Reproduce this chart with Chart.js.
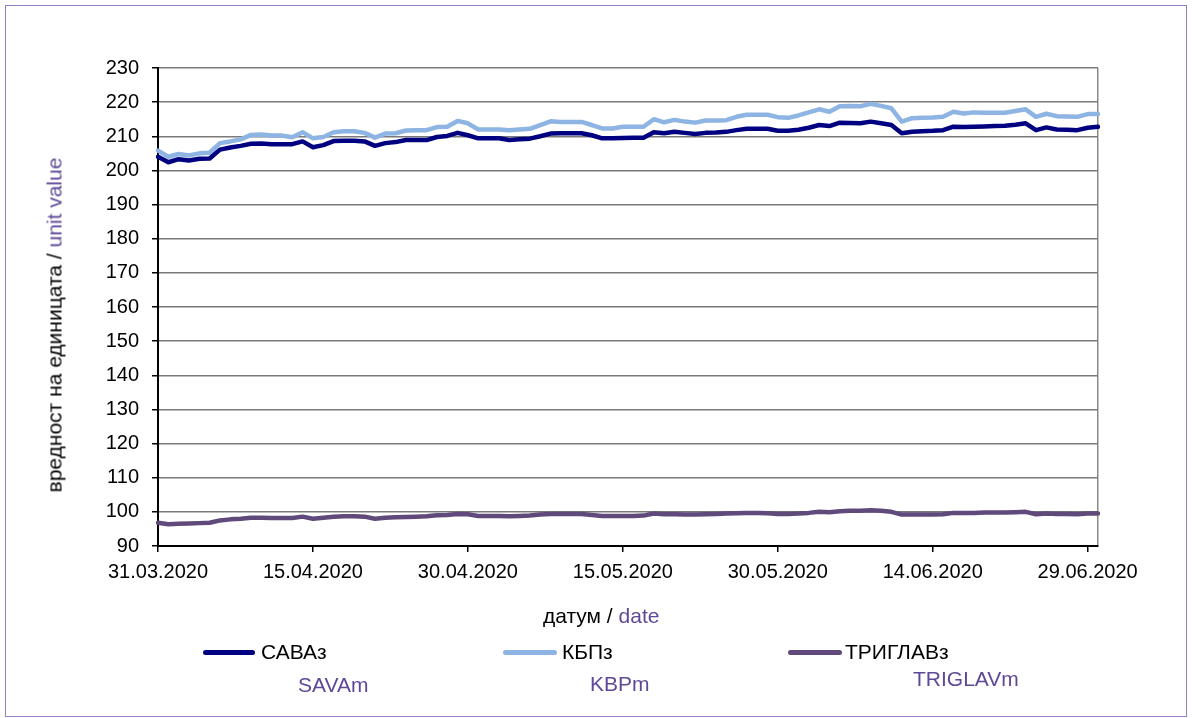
<!DOCTYPE html>
<html>
<head>
<meta charset="utf-8">
<script src="https://cdn.jsdelivr.net/npm/chart.js@4.4.0/dist/chart.umd.min.js"></script>
<style>
  body { margin: 0; background: #fff; font-family: Arial, "Liberation Sans", sans-serif; }
  #wrap { position: relative; width: 1192px; height: 718px; overflow: hidden; }
  #frame { position: absolute; left: 5px; top: 5px; width: 1180px; height: 710px; border: 1px solid #9580c4; }
  canvas { position: absolute; left: 0; top: 0; }
  .txt { position: absolute; font-size: 21px; line-height: 21px; white-space: nowrap; color: #000; }
  .en { color: #5f4897; }
  .key { position: absolute; height: 5px; border-radius: 3px; }
  #ytitle { left: 54px; top: 325px; transform: translate(-50%, -50%) rotate(-90deg); }
</style>
</head>
<body>
<div id="wrap">
  <div id="frame"></div>
  <canvas id="chart" width="1192" height="718"></canvas>
  <div class="txt" id="ytitle">вредност на единицата / <span class="en">unit value</span></div>
  <div class="txt" style="left:543px; top:605px;">датум / <span class="en">date</span></div>

  <div class="key" style="left:203px; top:650px; width:52px; background:#000080;"></div>
  <div class="txt" style="left:261px; top:641px;">САВАз</div>
  <div class="txt en" style="left:298px; top:674px;">SAVAm</div>

  <div class="key" style="left:503px; top:650px; width:54px; background:#8db4e2;"></div>
  <div class="txt" style="left:562px; top:641px;">КБПз</div>
  <div class="txt en" style="left:590px; top:673px;">KBPm</div>

  <div class="key" style="left:788px; top:650px; width:54px; background:#604a7b;"></div>
  <div class="txt" style="left:845px; top:641px;">ТРИГЛАВз</div>
  <div class="txt en" style="left:913px; top:668px;">TRIGLAVm</div>
</div>

<script>
// ------------------------- Data -------------------------
const dates = [
  '31.03.2020',
  '01.04.2020', '02.04.2020', '03.04.2020', '04.04.2020', '05.04.2020', '06.04.2020', '07.04.2020', '08.04.2020', '09.04.2020', '10.04.2020',
  '11.04.2020', '12.04.2020', '13.04.2020', '14.04.2020', '15.04.2020', '16.04.2020', '17.04.2020', '18.04.2020', '19.04.2020', '20.04.2020',
  '21.04.2020', '22.04.2020', '23.04.2020', '24.04.2020', '25.04.2020', '26.04.2020', '27.04.2020', '28.04.2020', '29.04.2020', '30.04.2020',
  '01.05.2020', '02.05.2020', '03.05.2020', '04.05.2020', '05.05.2020', '06.05.2020', '07.05.2020', '08.05.2020', '09.05.2020', '10.05.2020',
  '11.05.2020', '12.05.2020', '13.05.2020', '14.05.2020', '15.05.2020', '16.05.2020', '17.05.2020', '18.05.2020', '19.05.2020', '20.05.2020',
  '21.05.2020', '22.05.2020', '23.05.2020', '24.05.2020', '25.05.2020', '26.05.2020', '27.05.2020', '28.05.2020', '29.05.2020', '30.05.2020',
  '31.05.2020',
  '01.06.2020', '02.06.2020', '03.06.2020', '04.06.2020', '05.06.2020', '06.06.2020', '07.06.2020', '08.06.2020', '09.06.2020', '10.06.2020',
  '11.06.2020', '12.06.2020', '13.06.2020', '14.06.2020', '15.06.2020', '16.06.2020', '17.06.2020', '18.06.2020', '19.06.2020', '20.06.2020',
  '21.06.2020', '22.06.2020', '23.06.2020', '24.06.2020', '25.06.2020', '26.06.2020', '27.06.2020', '28.06.2020', '29.06.2020', '30.06.2020'
];

const tickDates = ['31.03.2020', '15.04.2020', '30.04.2020', '15.05.2020', '30.05.2020', '14.06.2020', '29.06.2020'];

const sava = [
  204.0, 202.4, 203.3, 202.9, 203.4, 203.5, 206.1, 206.7, 207.2, 207.8,
  207.9, 207.7, 207.7, 207.7, 208.5, 206.8, 207.4, 208.6, 208.7, 208.7,
  208.5, 207.2, 208.0, 208.3, 208.9, 208.9, 208.9, 209.8, 210.1, 211.0,
  210.3, 209.4, 209.4, 209.4, 208.9, 209.1, 209.3, 210.0, 210.8, 210.9,
  210.9, 210.9, 210.3, 209.4, 209.4, 209.5, 209.6, 209.6, 211.2, 210.9,
  211.3, 211.0, 210.7, 211.0, 211.1, 211.3, 211.8, 212.2, 212.2, 212.2,
  211.6, 211.6, 211.9, 212.5, 213.3, 213.0, 214.0, 213.9, 213.8, 214.3,
  213.8, 213.3, 210.9, 211.3, 211.5, 211.6, 211.8, 212.8, 212.7, 212.8,
  212.9, 213.0, 213.1, 213.4, 213.8, 211.8, 212.6, 212.0, 211.9, 211.8,
  212.5, 212.8
];

const kbp = [
  205.8, 204.0, 204.8, 204.4, 205.0, 205.2, 208.0, 208.5, 209.1, 210.4,
  210.5, 210.2, 210.2, 209.7, 211.2, 209.4, 209.8, 211.2, 211.5, 211.5,
  211.0, 209.6, 210.8, 210.9, 211.7, 211.8, 211.8, 212.7, 212.8, 214.5,
  213.8, 212.0, 212.0, 212.0, 211.8, 212.0, 212.2, 213.3, 214.4, 214.2,
  214.2, 214.2, 213.3, 212.3, 212.3, 212.8, 212.8, 212.8, 215.0, 214.1,
  214.8, 214.3, 214.0, 214.6, 214.6, 214.7, 215.7, 216.3, 216.3, 216.3,
  215.6, 215.4, 216.1, 217.0, 217.9, 217.2, 218.8, 218.9, 218.8, 219.5,
  218.9, 218.2, 214.3, 215.3, 215.4, 215.5, 215.7, 217.2, 216.7, 217.0,
  216.9, 216.9, 216.9, 217.4, 217.9, 215.7, 216.6, 215.9, 215.8, 215.7,
  216.5, 216.5
];

const triglav = [
  96.8, 96.4, 96.5, 96.6, 96.7, 96.8, 97.5, 97.8, 98.0, 98.3,
  98.3, 98.2, 98.2, 98.2, 98.6, 98.0, 98.3, 98.6, 98.7, 98.7,
  98.6, 98.0, 98.3, 98.4, 98.5, 98.6, 98.7, 99.0, 99.1, 99.4,
  99.3, 98.8, 98.8, 98.8, 98.7, 98.8, 98.9, 99.2, 99.4, 99.4,
  99.4, 99.4, 99.1, 98.8, 98.8, 98.8, 98.8, 98.9, 99.5, 99.3,
  99.3, 99.2, 99.2, 99.3, 99.4, 99.5, 99.6, 99.7, 99.7, 99.6,
  99.4, 99.4, 99.5, 99.7, 100.0, 99.9, 100.2, 100.3, 100.3, 100.5,
  100.3, 100.0, 99.2, 99.2, 99.2, 99.2, 99.3, 99.7, 99.7, 99.7,
  99.8, 99.8, 99.8, 99.9, 100.0, 99.3, 99.5, 99.4, 99.4, 99.3,
  99.5, 99.5
];

// ------------------------- Chart -------------------------
const lastIdx = dates.length - 1;
const tickFont = { family: 'Arial, "Liberation Sans", sans-serif', size: 20 };

function line(label, data, color) {
  return {
    label: label,
    data: data,
    borderColor: color,
    backgroundColor: color,
    borderWidth: 4.5,
    pointRadius: 0,
    tension: 0,
    borderJoinStyle: 'round',
    borderCapStyle: 'round'
  };
}

const ctx = document.getElementById('chart').getContext('2d');
new Chart(ctx, {
  type: 'line',
  data: {
    labels: dates,
    datasets: [
      line('САВАз', sava, '#000080'),
      line('КБПз', kbp, '#8db4e2'),
      line('ТРИГЛАВз', triglav, '#604a7b')
    ]
  },
  options: {
    responsive: false,
    animation: false,
    layout: { padding: { left: 0, right: 94, top: 68, bottom: 0 } },
    plugins: { legend: { display: false }, tooltip: { enabled: false } },
    scales: {
      x: {
        type: 'category',
        offset: false,
        afterFit: s => { s.height = 172; },
        border: { color: '#000', width: 2 },
        grid: {
          drawOnChartArea: true,
          tickLength: 6,
          lineWidth: 1.5,
          color: c => (c.index === lastIdx ? '#8a8a8a' : 'rgba(0,0,0,0)'),
          tickColor: c => (c.index % 15 === 0 ? '#000' : 'rgba(0,0,0,0)')
        },
        ticks: {
          autoSkip: false,
          maxRotation: 0,
          minRotation: 0,
          padding: 8,
          color: '#000',
          font: tickFont,
          callback: function (v, i) {
            const lbl = this.getLabelForValue(v);
            return tickDates.includes(lbl) ? lbl : '';
          }
        }
      },
      y: {
        min: 90,
        max: 230,
        afterFit: s => { s.width = 158; },
        border: { color: '#000', width: 2 },
        grid: { color: '#7a7a7a', lineWidth: 1.5, tickLength: 6, tickColor: '#000' },
        ticks: { stepSize: 10, padding: 13, color: '#000', font: tickFont }
      }
    }
  }
});
</script>
</body>
</html>
